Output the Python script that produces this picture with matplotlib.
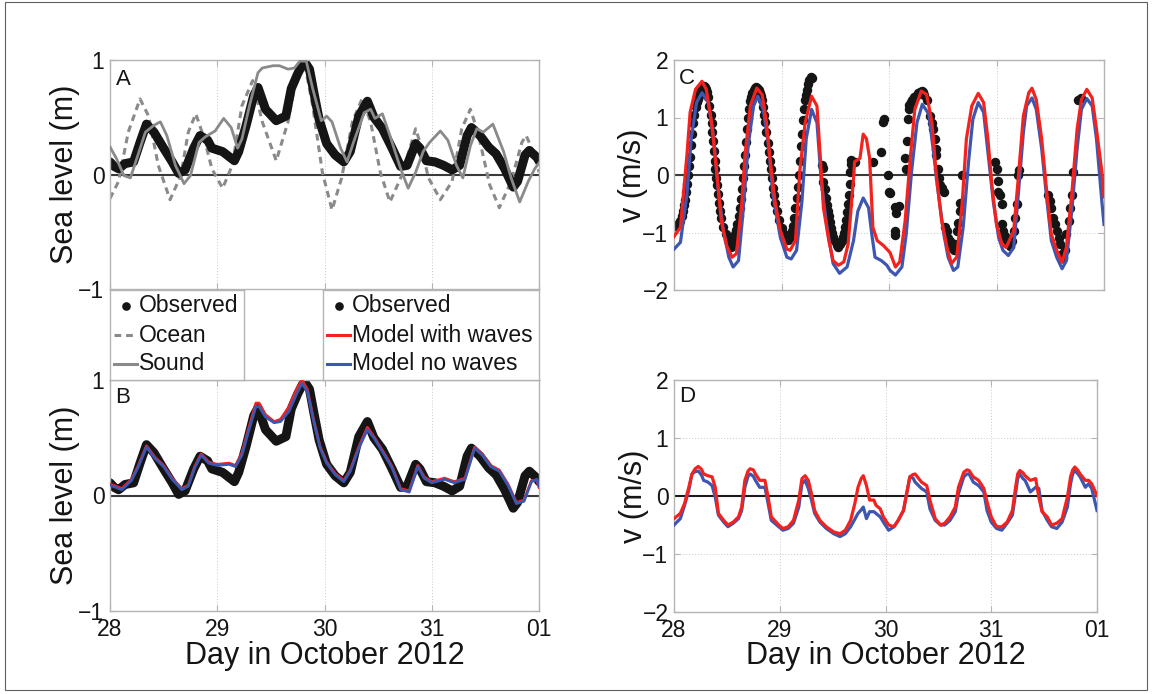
import matplotlib
matplotlib.use("Agg")
import matplotlib.pyplot as plt
from matplotlib.patches import Rectangle

plt.rcParams['font.family'] = ['Liberation Sans', 'DejaVu Sans']

# ---------------- data ----------------
# Panel A/B: observed sea level
obs_t = [28.00, 28.04, 28.08, 28.14, 28.22, 28.28, 28.34, 28.41, 28.50, 28.58, 28.64, 28.70,
         28.78, 28.84, 28.91, 28.95, 29.05, 29.16, 29.20, 29.27, 29.34, 29.38, 29.45, 29.55,
         29.64, 29.69, 29.75, 29.81, 29.86, 29.90, 29.95, 30.02, 30.10, 30.18, 30.24, 30.32,
         30.40, 30.46, 30.54, 30.63, 30.71, 30.77, 30.85, 30.89, 30.95, 31.03, 31.11, 31.19,
         31.26, 31.33, 31.37, 31.45, 31.53, 31.60, 31.68, 31.76, 31.80, 31.87, 31.91, 31.98, 32.00]
obs_v = [0.11, 0.07, 0.05, 0.095, 0.11, 0.28, 0.44, 0.37, 0.23, 0.11, 0.01, 0.04,
         0.23, 0.34, 0.30, 0.23, 0.20, 0.12, 0.20, 0.43, 0.69, 0.76, 0.57, 0.47,
         0.51, 0.75, 0.88, 0.99, 0.92, 0.72, 0.48, 0.27, 0.17, 0.11, 0.20, 0.51,
         0.64, 0.50, 0.40, 0.23, 0.07, 0.08, 0.27, 0.23, 0.12, 0.11, 0.08, 0.04,
         0.08, 0.34, 0.41, 0.34, 0.24, 0.18, 0.05, -0.11, -0.06, 0.17, 0.21, 0.15, 0.12]

# Panel A: ocean (dashed) sea level
ocean_t = [28.00, 28.08, 28.17, 28.28, 28.36, 28.45, 28.56, 28.66, 28.73, 28.80, 28.88, 28.95,
           29.05, 29.14, 29.23, 29.33, 29.42, 29.55, 29.66, 29.75, 29.81, 29.89, 29.98, 30.07,
           30.16, 30.26, 30.35, 30.43, 30.52, 30.61, 30.72, 30.85, 30.89, 30.97, 31.08, 31.19,
           31.28, 31.36, 31.43, 31.54, 31.63, 31.74, 31.84, 31.88, 31.96, 32.00]
ocean_v = [-0.21, -0.06, 0.37, 0.66, 0.51, 0.08, -0.22, -0.01, 0.37, 0.53, 0.31, 0.05,
           -0.12, 0.08, 0.60, 0.82, 0.46, 0.12, 0.46, 0.92, 0.99, 0.60, 0.02, -0.31,
           -0.03, 0.46, 0.66, 0.46, 0.02, -0.24, -0.01, 0.40, 0.28, -0.03, -0.22, -0.06,
           0.40, 0.57, 0.37, -0.09, -0.29, -0.06, 0.28, 0.34, 0.17, 0.02]

# Panel A: sound (solid grey) sea level
sound_t = [28.00, 28.06, 28.13, 28.19, 28.25, 28.33, 28.41, 28.47, 28.53, 28.61, 28.69, 28.75,
           28.83, 28.89, 28.98, 29.06, 29.13, 29.19, 29.23, 29.30, 29.38, 29.42, 29.52, 29.58,
           29.66, 29.72, 29.77, 29.83, 29.89, 29.97, 30.02, 30.07, 30.15, 30.21, 30.27, 30.37,
           30.43, 30.47, 30.54, 30.61, 30.71, 30.78, 30.85, 30.92, 30.98, 31.08, 31.15, 31.23,
           31.29, 31.36, 31.42, 31.48, 31.57, 31.67, 31.74, 31.82, 31.90, 31.96, 32.00]
sound_v = [0.24, 0.14, -0.01, -0.03, 0.14, 0.37, 0.43, 0.46, 0.34, 0.08, -0.08, -0.01,
           0.28, 0.33, 0.38, 0.49, 0.41, 0.23, 0.31, 0.60, 0.89, 0.93, 0.95, 0.95,
           0.92, 0.93, 0.99, 0.99, 0.75, 0.47, 0.51, 0.46, 0.23, 0.11, 0.28, 0.54,
           0.57, 0.49, 0.53, 0.34, 0.05, -0.12, 0.02, 0.20, 0.28, 0.38, 0.30, 0.08,
           -0.03, 0.25, 0.40, 0.37, 0.44, 0.20, -0.03, -0.24, -0.06, 0.05, 0.10]

# Panel B: model sea level (no waves / with waves)
modB_t = [28.00, 28.11, 28.20, 28.26, 28.34, 28.42, 28.50, 28.58, 28.67, 28.73, 28.79, 28.85,
          28.92, 29.00, 29.11, 29.17, 29.23, 29.29, 29.36, 29.39, 29.45, 29.53, 29.59, 29.67,
          29.74, 29.79, 29.84, 29.90, 29.96, 30.02, 30.10, 30.18, 30.24, 30.32, 30.40, 30.46,
          30.54, 30.63, 30.71, 30.79, 30.87, 30.93, 31.00, 31.12, 31.21, 31.31, 31.36, 31.40,
          31.47, 31.55, 31.63, 31.71, 31.79, 31.86, 31.93, 31.98, 32.00]
blueB_v = [0.09, 0.05, 0.13, 0.24, 0.42, 0.32, 0.25, 0.14, 0.05, 0.08, 0.24, 0.35,
           0.28, 0.26, 0.27, 0.25, 0.35, 0.55, 0.77, 0.77, 0.68, 0.63, 0.64, 0.73,
           0.88, 0.97, 0.90, 0.64, 0.41, 0.28, 0.18, 0.12, 0.21, 0.41, 0.57, 0.50,
           0.38, 0.24, 0.05, 0.03, 0.25, 0.15, 0.11, 0.14, 0.11, 0.14, 0.29, 0.41,
           0.35, 0.25, 0.21, 0.09, -0.07, -0.05, 0.12, 0.14, 0.08]
redB_v = [0.10, 0.06, 0.14, 0.25, 0.43, 0.33, 0.26, 0.15, 0.06, 0.09, 0.25, 0.36,
          0.29, 0.27, 0.28, 0.26, 0.37, 0.57, 0.80, 0.80, 0.70, 0.64, 0.66, 0.77,
          0.92, 1.00, 0.92, 0.65, 0.42, 0.29, 0.19, 0.13, 0.22, 0.42, 0.59, 0.51,
          0.39, 0.25, 0.06, 0.04, 0.26, 0.16, 0.12, 0.15, 0.12, 0.15, 0.30, 0.42,
          0.36, 0.26, 0.22, 0.10, -0.06, -0.04, 0.13, 0.13, 0.07]

# Panel C: observed velocity (dots)
velobs_t = [28.00, 28.02, 28.04, 28.06, 28.07, 28.08, 28.09, 28.10, 28.11, 28.12, 28.13, 28.14,
            28.15, 28.16, 28.17, 28.18, 28.19, 28.20, 28.21, 28.22, 28.23, 28.24, 28.25, 28.26,
            28.27, 28.28, 28.29, 28.30, 28.31, 28.32, 28.33, 28.34, 28.35, 28.355, 28.36, 28.37,
            28.38, 28.385, 28.39, 28.40, 28.41, 28.42, 28.43, 28.44, 28.46, 28.48, 28.50, 28.52,
            28.53, 28.54, 28.55, 28.56, 28.57, 28.58, 28.59, 28.60, 28.61, 28.62, 28.63, 28.64,
            28.65, 28.66, 28.67, 28.68, 28.69, 28.70, 28.71, 28.72, 28.73, 28.74, 28.75, 28.76,
            28.77, 28.78, 28.79, 28.80, 28.81, 28.82, 28.83, 28.84, 28.85, 28.86, 28.87, 28.88,
            28.89, 28.90, 28.91, 28.92, 28.93, 28.94, 28.96, 28.98, 29.00, 29.02, 29.04, 29.06,
            29.08, 29.10, 29.11, 29.12, 29.13, 29.14, 29.15, 29.16, 29.17, 29.18, 29.19, 29.20,
            29.21, 29.22, 29.23, 29.24, 29.25, 29.26, 29.27, 29.28,
            29.375, 29.385, 29.39, 29.40, 29.41, 29.42, 29.43, 29.44, 29.45, 29.46, 29.47, 29.48,
            29.50, 29.52, 29.53, 29.54, 29.56, 29.57, 29.58, 29.59, 29.60, 29.61, 29.62, 29.63,
            29.635, 29.64, 29.645, 29.65, 29.68, 29.85, 29.93, 29.945, 29.95,
            29.99, 30.00, 30.01, 30.06, 30.065, 30.06, 30.055, 30.09,
            30.15, 30.16, 30.17, 30.18, 30.185, 30.19, 30.20, 30.21, 30.23, 30.25, 30.27, 30.29,
            30.31, 30.32, 30.33, 30.35, 30.38, 30.40, 30.41, 30.43, 30.435, 30.44, 30.46, 30.465,
            30.47, 30.49, 30.51, 30.52, 30.54, 30.55, 30.57, 30.58, 30.60, 30.61, 30.63, 30.64,
            30.66, 30.665, 30.68,
            30.99, 31.00, 31.01, 31.015, 31.03, 31.05, 31.055, 31.06, 31.08, 31.09, 31.11, 31.13,
            31.14, 31.16, 31.17, 31.19, 31.20, 31.205,
            31.48, 31.50, 31.51, 31.53, 31.54, 31.56, 31.58, 31.59, 31.61, 31.62, 31.64, 31.65,
            31.67, 31.68, 31.70, 31.71, 31.76, 31.79]
velobs_v = [-0.89, -0.88, -0.86, -0.80, -0.72, -0.62, -0.52, -0.44, -0.30, -0.15, 0.00, 0.15,
            0.32, 0.52, 0.72, 0.90, 1.05, 1.18, 1.27, 1.33, 1.38, 1.44, 1.49, 1.52,
            1.55, 1.55, 1.53, 1.50, 1.45, 1.36, 1.20, 1.05, 0.90, 0.75, 0.60, 0.42,
            0.25, 0.10, -0.05, -0.18, -0.33, -0.48, -0.62, -0.75, -0.90, -1.02, -1.13, -1.22,
            -1.25, -1.20, -1.12, -1.10, -1.02, -0.95, -0.85, -0.72, -0.58, -0.42, -0.25, -0.05,
            0.15, 0.35, 0.58, 0.80, 1.00, 1.15, 1.28, 1.36, 1.42, 1.48, 1.52, 1.53,
            1.52, 1.50, 1.47, 1.42, 1.38, 1.30, 1.18, 1.05, 0.92, 0.75, 0.55, 0.40,
            0.25, 0.10, -0.05, -0.22, -0.35, -0.48, -0.62, -0.78, -0.92, -1.02, -1.10, -1.13,
            -1.08, -0.98, -0.88, -0.75, -0.58, -0.40, -0.20, 0.00, 0.25, 0.50, 0.72, 0.95,
            1.15, 1.30, 1.40, 1.48, 1.58, 1.65, 1.70, 1.68,
            0.17, 0.12, -0.12, -0.25, -0.40, -0.52, -0.62, -0.72, -0.82, -0.92, -1.00, -1.08,
            -1.15, -1.22, -1.25, -1.20, -1.15, -1.08, -1.00, -0.90, -0.78, -0.65, -0.50, -0.35,
            -0.15, 0.05, 0.20, 0.26, 0.23, 0.23, 0.40, 0.92, 0.98,
            0.00, -0.29, -0.32, -0.55, -0.66, -0.98, -1.04, -0.54,
            0.29, 0.11, 0.60, 0.97, 1.15, 1.22, 1.27, 1.31, 1.35, 1.38, 1.42, 1.44,
            1.46, 1.45, 1.40, 1.31, 1.03, 0.91, 0.80, 0.63, 0.46, 0.34, 0.11, -0.06,
            -0.17, -0.23, -0.29, -0.91, -0.97, -1.09, -1.14, -1.25, -1.30, -1.20, -0.97, -0.83,
            -0.63, -0.49, 0.00,
            0.23, 0.11, -0.11, -0.29, -0.34, -0.51, -0.86, -0.97, -1.06, -1.11, -1.17, -1.23,
            -1.14, -0.97, -0.74, -0.51, 0.00, 0.09,
            -0.34, -0.46, -0.57, -0.74, -0.86, -0.97, -1.09, -1.20, -1.37, -1.45, -1.31, -1.03,
            -0.80, -0.57, -0.34, 0.06, 1.31, 1.34]

# Panel C: model velocity
velC_t = [28.00, 28.06, 28.12, 28.15, 28.20, 28.26, 28.30, 28.35, 28.40, 28.44, 28.49, 28.54,
          28.58, 28.63, 28.66, 28.71, 28.77, 28.82, 28.86, 28.89, 28.94, 28.99, 29.05, 29.08,
          29.13, 29.17, 29.22, 29.28, 29.33, 29.36, 29.39, 29.44, 29.48, 29.53, 29.58, 29.62,
          29.67, 29.68, 29.73, 29.76, 29.79, 29.82, 29.85, 29.89, 29.95, 30.01, 30.06, 30.10,
          30.15, 30.20, 30.24, 30.30, 30.35, 30.40, 30.44, 30.49, 30.54, 30.58, 30.63, 30.68,
          30.72, 30.77, 30.83, 30.88, 30.92, 30.96, 31.00, 31.05, 31.09, 31.16, 31.20, 31.25,
          31.30, 31.33, 31.37, 31.42, 31.47, 31.51, 31.56, 31.61, 31.65, 31.70, 31.75, 31.79,
          31.84, 31.89, 31.93, 31.98, 32.00]
redC_v = [-1.07, -0.91, 0.34, 1.09, 1.49, 1.63, 1.49, 0.91, 0.00, -0.80, -1.23, -1.43,
          -1.37, -0.51, 0.34, 1.20, 1.51, 1.40, 0.91, 0.34, -0.46, -0.97, -1.29, -1.31,
          -1.14, 0.06, 0.91, 1.37, 1.20, 0.34, -0.57, -1.14, -1.49, -1.57, -1.51, -1.20,
          -0.06, 0.23, 0.29, 0.71, 0.63, 0.29, -0.91, -1.14, -1.23, -1.35, -1.60, -1.51,
          -0.80, 0.34, 1.14, 1.46, 1.40, 0.91, 0.00, -0.80, -1.26, -1.54, -1.43, -0.51,
          0.63, 1.20, 1.42, 1.26, 0.63, -0.23, -0.86, -1.20, -1.26, -0.97, -0.11, 1.03,
          1.43, 1.51, 1.31, 0.63, -0.34, -1.03, -1.31, -1.52, -1.26, -0.34, 0.80, 1.31,
          1.49, 1.34, 0.80, 0.06, -0.38]
blueC_t = [28.00, 28.06, 28.12, 28.16, 28.21, 28.26, 28.32, 28.37, 28.41, 28.46, 28.51, 28.55,
           28.60, 28.64, 28.69, 28.74, 28.78, 28.83, 28.88, 28.92, 28.99, 29.05, 29.09, 29.14,
           29.19, 29.23, 29.28, 29.33, 29.37, 29.42, 29.48, 29.54, 29.61, 29.67, 29.71, 29.76,
           29.81, 29.84, 29.87, 29.93, 29.98, 30.01, 30.06, 30.12, 30.16, 30.21, 30.26, 30.31,
           30.37, 30.41, 30.46, 30.51, 30.55, 30.60, 30.64, 30.69, 30.74, 30.78, 30.83, 30.88,
           30.92, 30.97, 31.02, 31.06, 31.11, 31.16, 31.20, 31.25, 31.28, 31.33, 31.37, 31.42,
           31.47, 31.51, 31.56, 31.61, 31.65, 31.70, 31.75, 31.79, 31.84, 31.89, 31.93, 31.98,
           32.00]
blueC_v = [-1.29, -1.17, -0.34, 0.63, 1.26, 1.43, 1.26, 0.63, -0.23, -0.97, -1.43, -1.60,
           -1.49, -0.69, 0.51, 1.20, 1.37, 1.14, 0.51, -0.34, -1.09, -1.43, -1.46, -1.31,
           -0.46, 0.63, 1.14, 0.91, -0.11, -0.86, -1.54, -1.71, -1.60, -1.14, -0.63, -0.40,
           -0.57, -1.03, -1.43, -1.49, -1.57, -1.66, -1.74, -1.60, -1.03, 0.06, 0.91, 1.23,
           1.06, 0.46, -0.34, -1.03, -1.43, -1.66, -1.60, -0.91, 0.23, 0.97, 1.26, 1.09,
           0.40, -0.46, -1.09, -1.31, -1.40, -1.26, -0.40, 0.74, 1.20, 1.34, 1.14, 0.46,
           -0.46, -1.14, -1.43, -1.63, -1.49, -0.63, 0.46, 1.14, 1.33, 1.20, 0.63, -0.46,
           -0.86]

# Panel D: model velocity
velD_t = [28.00, 28.06, 28.10, 28.14, 28.17, 28.20, 28.23, 28.26, 28.28, 28.32, 28.36, 28.39,
          28.42, 28.47, 28.51, 28.56, 28.61, 28.64, 28.67, 28.70, 28.72, 28.75, 28.77, 28.81,
          28.86, 28.89, 28.92, 28.99, 29.03, 29.08, 29.13, 29.18, 29.21, 29.24, 29.27, 29.30,
          29.33, 29.38, 29.44, 29.51, 29.57, 29.62, 29.67, 29.71, 29.74, 29.77, 29.79, 29.82,
          29.85, 29.89, 29.91, 29.95, 29.98, 30.03, 30.08, 30.12, 30.17, 30.20, 30.23, 30.26,
          30.28, 30.34, 30.39, 30.42, 30.47, 30.52, 30.56, 30.61, 30.66, 30.69, 30.74, 30.77,
          30.79, 30.83, 30.88, 30.93, 30.96, 31.00, 31.05, 31.10, 31.15, 31.20, 31.23, 31.25,
          31.27, 31.30, 31.32, 31.37, 31.42, 31.45, 31.48, 31.53, 31.57, 31.62, 31.67, 31.72,
          31.75, 31.77, 31.79, 31.82, 31.84, 31.89, 31.92, 31.95, 32.00]
redD_v = [-0.39, -0.30, -0.13, 0.15, 0.38, 0.47, 0.51, 0.46, 0.38, 0.35, 0.33, 0.15,
          -0.30, -0.42, -0.50, -0.45, -0.36, -0.19, 0.27, 0.43, 0.47, 0.45, 0.38, 0.27,
          0.27, -0.02, -0.36, -0.50, -0.56, -0.53, -0.42, -0.07, 0.30, 0.35, 0.27, 0.04,
          -0.25, -0.42, -0.53, -0.62, -0.65, -0.59, -0.42, -0.13, 0.15, 0.30, 0.35, 0.18,
          -0.07, -0.07, -0.16, -0.22, -0.36, -0.50, -0.53, -0.42, -0.25, 0.04, 0.33, 0.37,
          0.38, 0.24, 0.18, -0.07, -0.39, -0.50, -0.47, -0.36, -0.19, 0.15, 0.41, 0.45,
          0.44, 0.33, 0.27, 0.13, -0.10, -0.36, -0.53, -0.53, -0.45, -0.25, 0.15, 0.38,
          0.44, 0.40, 0.35, 0.27, 0.30, -0.02, -0.27, -0.36, -0.50, -0.47, -0.39, -0.02,
          0.33, 0.45, 0.50, 0.44, 0.38, 0.27, 0.27, 0.21, 0.01]
blueD_v = [-0.50, -0.39, -0.16, 0.10, 0.38, 0.42, 0.43, 0.36, 0.27, 0.24, 0.18, -0.02,
           -0.33, -0.45, -0.53, -0.47, -0.39, -0.25, 0.15, 0.34, 0.38, 0.34, 0.27, 0.15,
           0.15, -0.13, -0.42, -0.53, -0.59, -0.56, -0.47, -0.19, 0.21, 0.27, 0.13, -0.07,
           -0.30, -0.45, -0.56, -0.65, -0.70, -0.65, -0.53, -0.40, -0.30, -0.24, -0.19, -0.39,
           -0.27, -0.27, -0.30, -0.36, -0.45, -0.59, -0.53, -0.42, -0.25, 0.04, 0.33, 0.31,
           0.24, 0.13, 0.07, -0.22, -0.42, -0.50, -0.50, -0.42, -0.27, 0.04, 0.33, 0.38,
           0.38, 0.24, 0.18, 0.07, -0.25, -0.45, -0.56, -0.59, -0.47, -0.33, 0.04, 0.30,
           0.38, 0.30, 0.27, 0.07, 0.15, 0.13, -0.25, -0.42, -0.53, -0.56, -0.45, -0.19,
           0.21, 0.38, 0.44, 0.38, 0.33, 0.15, 0.21, 0.13, -0.25]

xticks = [28, 29, 30, 31, 32]
xticklabels = ['28', '29', '30', '31', '01']

# ---------------- styling ----------------
W, H = 1152, 694
DPI = 100
RED = '#f2231f'
BLUE = '#3d56b0'
GREY = '#8a8a8a'
BLACK = '#151515'
SPINE = '#b4b4b4'
TXT = '#151515'


def frac(l, t, r, b):
    return [l / W, 1 - b / H, (r - l) / W, (b - t) / H]


fig = plt.figure(figsize=(W / DPI, H / DPI), dpi=DPI)
fig.add_artist(Rectangle((5 / W, 1 - 690 / H), 1142 / W, 688 / H, transform=fig.transFigure,
                         fill=False, edgecolor='#606060', lw=0.8))

axA = fig.add_axes(frac(110, 60, 539, 289))
axB = fig.add_axes(frac(110, 380, 539, 611))
axC = fig.add_axes(frac(674, 60, 1104, 290))
axD = fig.add_axes(frac(674, 380, 1097, 612))


def style(ax, ylim, yticks, xlabels):
    ax.set_xlim(28, 32)
    ax.set_ylim(*ylim)
    ax.set_xticks(xticks)
    ax.set_yticks(yticks)
    ax.set_yticklabels([('\u2212%d' % -v) if v < 0 else '%d' % v for v in yticks])
    if xlabels:
        ax.set_xticklabels(xticklabels)
    else:
        ax.set_xticklabels([])
    ax.tick_params(direction='in', length=4, width=0.8, color=SPINE, labelsize=16.5,
                   labelcolor=TXT, top=True, right=True, pad=4)
    ax.tick_params(axis='x', pad=5)
    for s in ax.spines.values():
        s.set_color(SPINE)
        s.set_linewidth(1.0)
    ax.grid(True, linestyle=(0, (1, 2)), color='#c8c8c8', lw=0.7)
    ax.set_axisbelow(True)
    ax.axhline(0, color='#3a3a3a', lw=1.5, zorder=1.5)


style(axA, (-1, 1), [-1, 0, 1], False)
style(axB, (-1, 1), [-1, 0, 1], True)
style(axC, (-2, 2), [-2, -1, 0, 1, 2], False)
style(axD, (-2, 2), [-2, -1, 0, 1, 2], True)

# Panel A
axA.plot(ocean_t, ocean_v, color=GREY, lw=2.2, dashes=(2.2, 1.6), zorder=2)
axA.plot(sound_t, sound_v, color=GREY, lw=2.0, zorder=3)
axA.plot(obs_t, obs_v, color=BLACK, lw=6.5, solid_capstyle='round', solid_joinstyle='round', zorder=2.5)
axA.text(0.013, 0.96, 'A', transform=axA.transAxes, fontsize=16, color=TXT, va='top', ha='left')

# Panel B
axB.plot(obs_t, obs_v, color=BLACK, lw=6.5, solid_capstyle='round', solid_joinstyle='round', zorder=2)
axB.plot(modB_t, redB_v, color=RED, lw=2.0, zorder=3)
axB.plot(modB_t, blueB_v, color=BLUE, lw=2.0, zorder=4)
axB.text(0.013, 0.97, 'B', transform=axB.transAxes, fontsize=16, color=TXT, va='top', ha='left')

# Panel C
axC.plot(velobs_t, velobs_v, 'o', color=BLACK, ms=5.8, mec=BLACK, zorder=2)
axC.plot(velC_t, redC_v, color=RED, lw=2.3, zorder=4)
axC.plot(blueC_t, blueC_v, color=BLUE, lw=2.3, zorder=3)
axC.text(0.012, 0.965, 'C', transform=axC.transAxes, fontsize=16, color=TXT, va='top', ha='left')

# Panel D
axD.axhline(0, color='#111111', lw=1.1, zorder=1.6)
axD.plot(velD_t, redD_v, color=RED, lw=2.3, zorder=4)
axD.plot(velD_t, blueD_v, color=BLUE, lw=2.3, zorder=3)
axD.text(0.012, 0.975, 'D', transform=axD.transAxes, fontsize=16, color=TXT, va='top', ha='left')

# Labels
for ax in (axA, axB):
    ax.set_ylabel('Sea level (m)', fontsize=22, color=TXT, va='center')
    ax.yaxis.set_label_coords((65 - 110) / 429, 0.5)
for ax in (axC, axD):
    ax.set_ylabel('v (m/s)', fontsize=22, color=TXT, va='center')
    ax.yaxis.set_label_coords((633 - 674) / 430, 0.5)
axB.set_xlabel('Day in October 2012', fontsize=22, color=TXT, va='center')
axB.xaxis.set_label_coords(0.5, (611 - 656) / 231)
axD.set_xlabel('Day in October 2012', fontsize=22, color=TXT, va='center')
axD.xaxis.set_label_coords(0.5, (612 - 656) / 232)


# Legends (boxes drawn as small axes)
def legend_box(l, t, r, b, entries):
    lg = fig.add_axes(frac(l, t, r, b))
    lg.set_xlim(0, r - l)
    lg.set_ylim(b - t, 0)
    lg.set_xticks([])
    lg.set_yticks([])
    lg.patch.set_facecolor('white')
    for s in lg.spines.values():
        s.set_color(SPINE)
        s.set_linewidth(1.0)
    rows = [16, 45, 74]
    for (kind, color, label), y in zip(entries, rows):
        if kind == 'dot':
            lg.plot([16], [y], 'o', color=BLACK, ms=5.2)
        elif kind == 'dash':
            lg.plot([4, 27], [y, y], color=color, lw=2.2, dashes=(2.2, 1.6))
        else:
            lg.plot([4, 27], [y, y], color=color, lw=2.2)
        lg.text(29, y, label, fontsize=16.5, color=TXT, va='center', ha='left')
    return lg


legend_box(110, 290, 244, 380, [('dot', BLACK, 'Observed'), ('dash', GREY, 'Ocean'),
                                ('line', GREY, 'Sound')])
legend_box(323, 290, 539, 380, [('dot', BLACK, 'Observed'), ('line', RED, 'Model with waves'),
                                ('line', BLUE, 'Model no waves')])

fig.savefig('out.png', dpi=DPI)
